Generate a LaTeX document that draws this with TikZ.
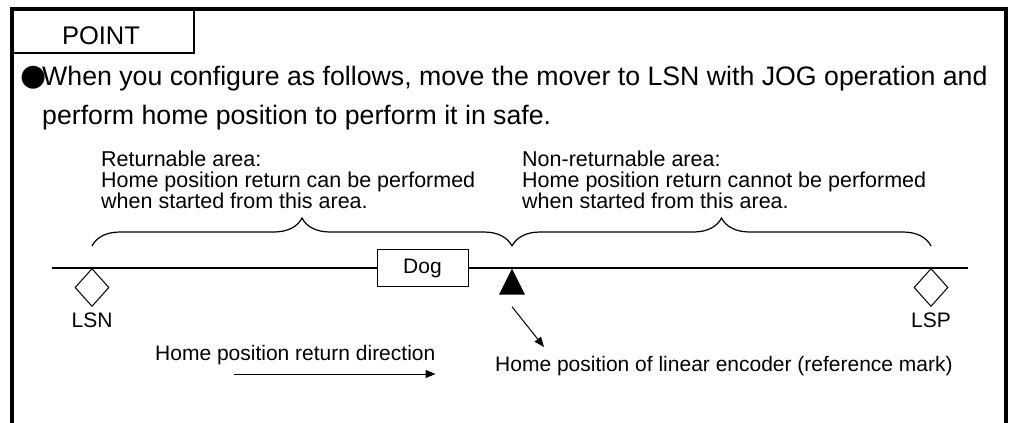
\documentclass[tikz,border=0pt]{standalone}
\usepackage{fontspec}
\setmainfont{Liberation Sans}
\newfontfamily\symfont{DejaVu Sans}
\usetikzlibrary{positioning,arrows.meta,shapes.geometric,decorations.pathreplacing}
\tikzset{
  frame/.style={draw=black,line width=4pt},
  tab/.style={draw=black,line width=1.5pt,minimum width=181.5pt,minimum height=43pt,inner sep=0pt},
  head/.style={inner sep=0pt,font=\fontsize{25.5}{28}\selectfont},
  body/.style={inner sep=0pt,align=left,font=\fontsize{26.7}{38.5}\selectfont},
  note/.style={inner sep=0pt,align=left,font=\fontsize{21.5}{21}\selectfont},
  lbl/.style={inner sep=0pt,font=\fontsize{21}{24}\selectfont},
  dogbox/.style={draw=black,line width=1pt,minimum width=91pt,minimum height=37pt,inner sep=0pt,
                 font=\fontsize{21}{24}\selectfont},
  limit/.style={draw=black,diamond,line width=1pt,minimum width=34pt,minimum height=38pt,inner sep=0pt},
  refmark/.style={fill=black,isosceles triangle,isosceles triangle stretches,shape border rotate=90,
                  minimum width=26pt,minimum height=26pt,inner sep=0pt},
  axis/.style={draw=black,line width=1.2pt},
  brc/.style={draw=black,line width=1.2pt,decorate,decoration={brace,amplitude=28pt}},
  arr/.style={-{Triangle[length=10pt,width=8pt]},draw=black,line width=1pt}
}

\begin{document}
\begin{tikzpicture}[x=1pt,y=1pt]
  \useasboundingbox (0,0) rectangle (1010,-423);

  % frame and tab
  \draw[frame] (11.5,-423) -- (11.5,-9) -- (1006,-9) -- (1006,-423);
  \node[tab,anchor=north west] (tab) at (11.5,-9) {};
  \node[head,anchor=base] (point) at (101,-44) {POINT};

  \node[body,anchor=north west] (msg) at (42,-66)
    {\llap{\symfont\fontsize{30}{30}\selectfont ●\kern-4pt}When you configure as follows, move the mover to LSN with JOG operation and\\
     perform home position to perform it in safe.};

  % areas
  \node[note,anchor=north west] (okarea) at (101,-151)
    {Returnable area:\\Home position return can be performed\\when started from this area.};
  \node[note,anchor=north west] (ngarea) at (522,-151)
    {Non-returnable area:\\Home position return cannot be performed\\when started from this area.};

  % axis
  \coordinate (axL) at (52,-268);
  \coordinate (axR) at (968,-268);
  \node[dogbox] (dog) at (422.5,-268) {Dog};
  \node[limit,anchor=north] (lsn) at (92,-268) {};
  \node[limit,anchor=north] (lsp) at (931,-268) {};
  \node[refmark,anchor=apex] (mark) at (512,-268) {};
  \draw[axis] (axL) -- (dog.west);
  \draw[axis] (dog.east) -- (axR);

  \node[lbl,below=6pt of lsn] (lsnlbl) {LSN};
  \node[lbl,below=6pt of lsp] (lsplbl) {LSP};

  \draw[brc] ([yshift=22pt]lsn.north) -- ([yshift=22pt]mark.apex);
  \draw[brc] ([yshift=22pt]mark.apex) -- ([yshift=22pt]lsp.north);

  % labels below
  \node[lbl,anchor=base west] (dirlbl) at (155,-360.5) {Home position return direction};
  \node[lbl,anchor=base west] (enclbl) at (495,-371.5) {Home position of linear encoder (reference mark)};
  \coordinate (dirA) at (234,-374);
  \coordinate (dirB) at (dirlbl.east |- dirA);
  \coordinate (encTip) at (544,-347);
  \draw[arr] (dirA) -- (dirB);
  \draw[arr] ([yshift=-12pt]mark.south) -- (encTip);
\end{tikzpicture}
\end{document}
